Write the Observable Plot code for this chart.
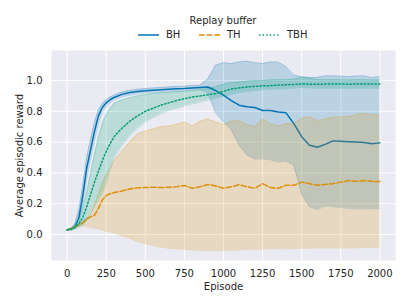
<!DOCTYPE html>
<html><head><meta charset="utf-8">
<script src="https://cdn.jsdelivr.net/npm/d3@7"></script>
<script src="https://cdn.jsdelivr.net/npm/@observablehq/plot@0.6"></script>
<style>
html,body{margin:0;padding:0;background:#fff;}
#wrap{position:relative;width:407px;height:305px;font-family:"DejaVu Sans",sans-serif;color:#262626;}
#legend{position:relative;width:407px;height:50px;}
#legend .t{position:absolute;font-size:10px;line-height:12px;white-space:nowrap;}
#legend svg{position:absolute;}
</style>
</head><body>
<div id="wrap">
  <div id="legend"></div>
  <div id="chart"></div>
</div>
<script>
const episodes = [0,25,50,75,100,125,150,175,200,225,250,275,300,350,400,450,500,550,600,650,700,750,800,850,900,950,1000,1050,1100,1150,1200,1250,1300,1350,1400,1450,1500,1550,1600,1650,1700,1750,1800,1850,1900,1950,2000];
const xTicks = [0,250,500,750,1000,1250,1500,1750,2000];
const yTicks = [0,0.2,0.4,0.6,0.8,1.0];
const seriesNames = ["BH","TH","TBH"];
const seriesColors = ["#0173b2","#de8f05","#029e73"];
const legendTitle = "Replay buffer";
const xLabel = "Episode";
const yLabel = "Average episodic reward";

const bhMean = [0.03,0.035,0.05,0.11,0.25,0.43,0.55,0.67,0.77,0.825,0.855,0.875,0.89,0.91,0.922,0.928,0.933,0.937,0.94,0.943,0.946,0.948,0.952,0.955,0.958,0.935,0.905,0.87,0.84,0.83,0.825,0.805,0.805,0.795,0.79,0.72,0.635,0.58,0.567,0.585,0.608,0.605,0.603,0.60,0.597,0.59,0.595];
const bhUpper = [0.033,0.04,0.07,0.16,0.32,0.50,0.62,0.73,0.81,0.85,0.875,0.893,0.905,0.925,0.937,0.943,0.948,0.952,0.955,0.958,0.961,0.963,0.967,0.97,1.01,1.10,1.115,1.11,1.12,1.125,1.115,1.11,1.12,1.12,1.09,1.035,1.025,1.02,1.02,1.03,1.03,1.028,1.025,1.03,1.03,1.02,1.025];
const bhLower = [0.027,0.03,0.035,0.07,0.19,0.36,0.49,0.61,0.72,0.79,0.83,0.855,0.873,0.893,0.905,0.912,0.918,0.922,0.925,0.928,0.931,0.933,0.937,0.94,0.92,0.79,0.73,0.68,0.58,0.515,0.49,0.49,0.485,0.47,0.475,0.45,0.26,0.18,0.16,0.185,0.18,0.175,0.168,0.167,0.165,0.168,0.167];

const thMean = [0.03,0.035,0.05,0.06,0.075,0.10,0.115,0.125,0.17,0.225,0.252,0.265,0.272,0.282,0.295,0.303,0.305,0.307,0.305,0.307,0.31,0.318,0.30,0.31,0.325,0.315,0.30,0.31,0.323,0.31,0.30,0.33,0.305,0.30,0.32,0.32,0.34,0.33,0.32,0.325,0.33,0.34,0.35,0.345,0.35,0.345,0.344];
const thUpper = [0.033,0.04,0.055,0.07,0.085,0.105,0.13,0.19,0.26,0.33,0.39,0.43,0.48,0.54,0.60,0.655,0.67,0.685,0.70,0.705,0.715,0.73,0.705,0.735,0.75,0.73,0.715,0.735,0.74,0.715,0.70,0.75,0.72,0.705,0.72,0.72,0.755,0.765,0.74,0.75,0.76,0.765,0.765,0.78,0.785,0.78,0.775];
const thLower = [0.027,0.035,0.045,0.055,0.055,0.05,0.045,0.04,0.035,0.028,0.02,0.016,0.01,-0.008,-0.025,-0.045,-0.06,-0.072,-0.082,-0.09,-0.094,-0.097,-0.10,-0.103,-0.104,-0.106,-0.104,-0.102,-0.10,-0.098,-0.097,-0.095,-0.094,-0.093,-0.093,-0.092,-0.09,-0.09,-0.088,-0.088,-0.087,-0.088,-0.088,-0.087,-0.085,-0.084,-0.082];

const tbhMean = [0.03,0.033,0.045,0.07,0.11,0.18,0.26,0.34,0.41,0.48,0.54,0.59,0.635,0.69,0.735,0.77,0.80,0.82,0.84,0.855,0.87,0.882,0.893,0.90,0.908,0.915,0.93,0.945,0.952,0.958,0.962,0.965,0.967,0.97,0.972,0.975,0.978,0.976,0.975,0.977,0.977,0.978,0.976,0.977,0.978,0.977,0.977];
const tbhUpper = [0.033,0.04,0.06,0.10,0.17,0.27,0.40,0.52,0.63,0.72,0.78,0.82,0.85,0.873,0.888,0.90,0.908,0.915,0.92,0.924,0.927,0.93,0.935,0.942,0.948,0.96,0.975,0.985,0.99,0.995,1.0,1.0,1.003,1.005,1.005,1.01,1.02,1.015,1.005,1.005,1.005,1.005,1.003,1.005,1.005,1.003,1.003];
const tbhLower = [0.027,0.028,0.035,0.045,0.06,0.09,0.14,0.18,0.22,0.27,0.33,0.42,0.50,0.575,0.64,0.69,0.73,0.76,0.785,0.805,0.82,0.835,0.847,0.86,0.873,0.885,0.90,0.91,0.92,0.928,0.934,0.94,0.943,0.945,0.947,0.95,0.955,0.952,0.948,0.95,0.95,0.95,0.948,0.95,0.95,0.95,0.95];

const table = (m, lo, hi) => episodes.map((ep, i) => ({ep, mean: m[i], lo: lo[i], hi: hi[i]}));
const series = [
  table(bhMean, bhLower, bhUpper),
  table(thMean, thLower, thUpper),
  table(tbhMean, tbhLower, tbhUpper)
];
const dashes = [null, "5.5,2.2", "1.4,2.2"];

// legend
const legend = document.getElementById("legend");
const title = document.createElement("div");
title.className = "t";
title.textContent = legendTitle;
title.style.left = "0px"; title.style.width = "446px"; title.style.textAlign = "center"; title.style.top = "15px";
legend.appendChild(title);
const entryLeft = [138, 199, 259];
seriesNames.forEach((name, i) => {
  const ns = "http://www.w3.org/2000/svg";
  const s = document.createElementNS(ns, "svg");
  s.setAttribute("width", 21); s.setAttribute("height", 10);
  s.style.left = entryLeft[i] + "px"; s.style.top = "30px";
  const l = document.createElementNS(ns, "line");
  l.setAttribute("x1", 0); l.setAttribute("x2", 21); l.setAttribute("y1", 5); l.setAttribute("y2", 5);
  l.setAttribute("stroke", seriesColors[i]); l.setAttribute("stroke-width", 1.5);
  if (dashes[i]) l.setAttribute("stroke-dasharray", dashes[i]);
  s.appendChild(l);
  legend.appendChild(s);
  const t = document.createElement("div");
  t.className = "t"; t.textContent = name;
  t.style.left = (entryLeft[i] + 28) + "px"; t.style.top = "29px";
  legend.appendChild(t);
});

const marks = [
  Plot.frame({fill: "#eaeaf2", stroke: null}),
  Plot.gridX(xTicks, {stroke: "white", strokeOpacity: 1, strokeWidth: 1}),
  Plot.gridY(yTicks, {stroke: "white", strokeOpacity: 1, strokeWidth: 1}),
  Plot.axisX(xTicks, {tickSize: 0, tickPadding: 9, tickFormat: d3.format("d"), label: xLabel, labelAnchor: "center", labelArrow: "none", labelOffset: 29}),
  Plot.axisY(yTicks, {tickSize: 0, tickPadding: 9, tickFormat: d3.format(".1f"), label: yLabel, labelAnchor: "center", labelArrow: "none", labelOffset: 36})
];
series.forEach((d, i) => {
  const c = seriesColors[i];
  marks.push(Plot.line(d, {x: "ep", y: "mean", stroke: c, strokeWidth: 1.5, strokeDasharray: dashes[i] || undefined}));
  marks.push(Plot.areaY(d, {x: "ep", y1: "lo", y2: "hi", fill: c, fillOpacity: 0.2}));
  marks.push(Plot.line(d, {x: "ep", y: "lo", stroke: c, strokeOpacity: 0.2, strokeWidth: 1}));
  marks.push(Plot.line(d, {x: "ep", y: "hi", stroke: c, strokeOpacity: 0.2, strokeWidth: 1}));
});

const chart = Plot.plot({
  width: 407, height: 255,
  marginLeft: 51, marginRight: 12, marginTop: 0, marginBottom: 45,
  x: {domain: [-100, 2100]},
  y: {domain: [-0.169, 1.195]},
  style: {fontFamily: "DejaVu Sans", fontSize: "10px", color: "#262626", background: "transparent"},
  marks
});
document.getElementById("chart").appendChild(chart);
</script>
</body></html>
